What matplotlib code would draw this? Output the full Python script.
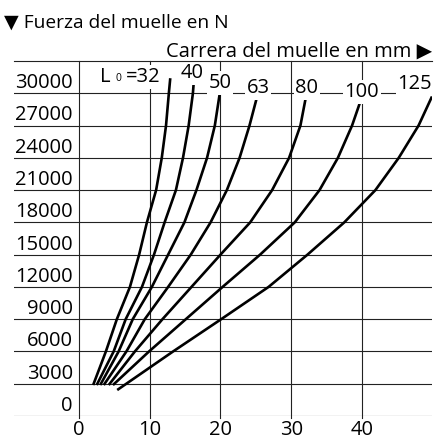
import matplotlib
matplotlib.use("Agg")
import matplotlib.pyplot as plt

plt.rcParams['font.family'] = ['Open Sans', 'DejaVu Sans']

# spring force levels (N) and the spring travel (mm) read for each free length L0
force = [2880, 6000, 9000, 12000, 15000, 18000, 21000, 24000, 27000, 30000]
travel_32 = [2.0, 3.8, 5.35, 7.2, 8.5, 9.6, 10.9, 11.7, 12.3, 12.7]
travel_40 = [2.5, 4.9, 6.6, 8.9, 10.6, 12.1, 13.7, 14.7, 15.5, 16.1]
travel_50 = [3.0, 5.6, 7.6, 10.3, 12.6, 14.9, 16.6, 18.1, 19.2, 19.9]
force_63 = [2880, 6000, 9000, 12000, 15000, 18000, 21000, 24000, 27000, 29500]
travel_63 = [3.5, 6.7, 9.3, 12.6, 15.8, 18.6, 20.9, 22.7, 24.1, 25.1]
force_80 = [2880, 6000, 9000, 12000, 15000, 18000, 21000, 24000, 27000, 29400]
travel_80 = [4.2, 7.9, 11.8, 15.9, 20.0, 24.2, 27.3, 29.7, 31.3, 32.0]
force_100 = [2880, 6000, 9000, 12000, 15000, 18000, 21000, 24000, 27000, 29100]
travel_100 = [4.8, 9.9, 15.1, 20.3, 25.6, 30.5, 34.0, 36.6, 38.6, 39.7]
force_125 = [2415, 6000, 9000, 12000, 15000, 18000, 21000, 24000, 27000, 29700]
travel_125 = [5.4, 13.3, 20.1, 26.8, 32.3, 37.5, 41.9, 45.2, 48.0, 49.9]

# the two shortest springs run a bit past 30000 N
force_top = [31400, 31700]
travel_top = [12.9, 16.3]

y_ticks = [0, 3000, 6000, 9000, 12000, 15000, 18000, 21000, 24000, 27000, 30000]
x_ticks = [0, 10, 20, 30, 40]

fs = 14.5
fig = plt.figure(figsize=(4.35, 4.41), dpi=100)
ax = fig.add_axes([14 / 435, 25 / 441, 418 / 435, 355 / 441])
ax.set_xlim(-9.19, 49.9)
ax.set_ylim(0, 33000)
ax.axis('off')

gc = '#222222'
for v in y_ticks:
    ax.axhline(v, color=gc, lw=0.8, zorder=1)
ax.axhline(33000, color=gc, lw=0.8, zorder=5, clip_on=False)
for x in x_ticks:
    ax.plot([x, x], [-160, 33000], color=gc, lw=0.8, zorder=1, clip_on=False)

curves = [
    (force + [force_top[0]], travel_32 + [travel_top[0]]),
    (force + [force_top[1]], travel_40 + [travel_top[1]]),
    (force + [30600], travel_50 + [20.0]),
    (force_63, travel_63),
    (force_80, travel_80),
    (force_100, travel_100),
    (force_125, travel_125),
]
for f, t in curves:
    ax.plot(t, f, color='black', lw=1.9, solid_capstyle='butt', zorder=2)

for v in y_ticks:
    ax.text(-0.89, v + 470, str(v), ha='right', va='baseline', fontsize=fs, zorder=3)
for x in x_ticks:
    ax.text(x, -1770, str(x), ha='center', va='baseline', fontsize=fs, clip_on=False)

box = dict(facecolor='white', edgecolor='none', boxstyle='square,pad=0.08')
ax.text(2.97, 31050, 'L', ha='left', va='baseline', fontsize=fs, bbox=box, zorder=3)
ax.text(5.58, 31150, '0', ha='center', va='baseline', fontsize=7.5, zorder=3)
ax.text(6.64, 31050, '=32', ha='left', va='baseline', fontsize=fs, bbox=box, zorder=3)

labels = ['40', '50', '63', '80', '100', '125']
label_x = [15.93, 19.93, 25.30, 32.18, 39.96, 47.49]
label_y = [31420, 30490, 30030, 30030, 29650, 30400]
for s, lx, ly in zip(labels, label_x, label_y):
    ax.text(lx, ly, s, ha='center', va='baseline', fontsize=fs, bbox=box, zorder=3)

fig.text(4 / 435, 1 - 28 / 441, '▼ Fuerza del muelle en N', ha='left', va='baseline', fontsize=13.8)
fig.text(432 / 435, 1 - 57 / 441, 'Carrera del muelle en mm ▶', ha='right', va='baseline', fontsize=fs)

fig.savefig('out.png', dpi=100, facecolor='white')
